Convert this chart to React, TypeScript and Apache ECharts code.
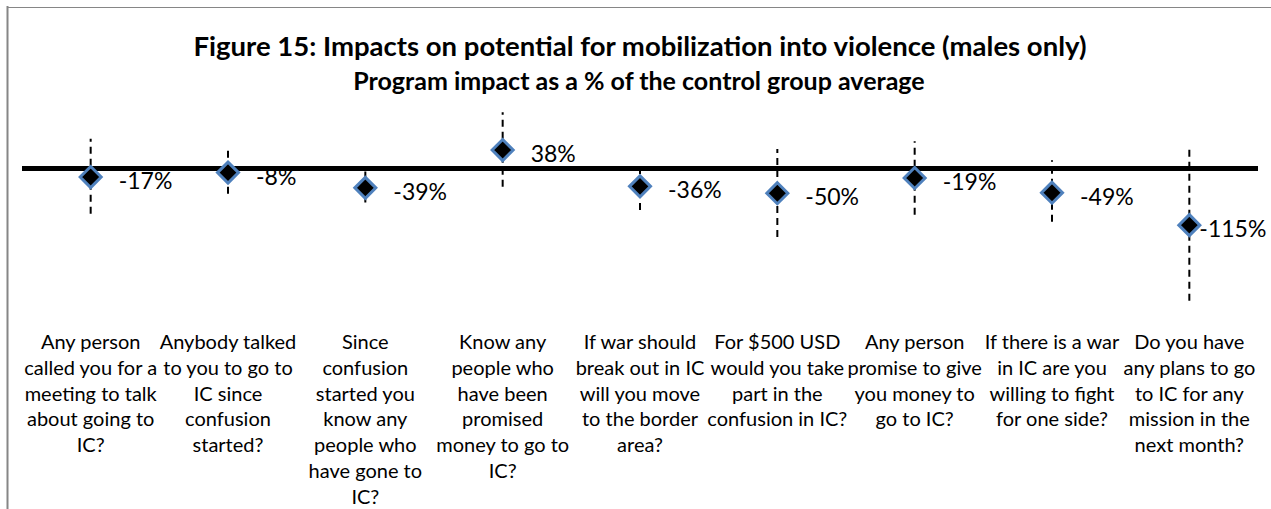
import React, { useEffect, useRef } from "react";
import * as echarts from "echarts";

const titleText = "Figure 15: Impacts on potential for mobilization into violence (males only)";
const subtitleText = "Program impact as a % of the control group average";

const categories = [
  "Any person\ncalled you for a\nmeeting to talk\nabout going to\nIC?",
  "Anybody talked\nto you to go to\nIC since\nconfusion\nstarted?",
  "Since\nconfusion\nstarted you\nknow any\npeople who\nhave gone to\nIC?",
  "Know any\npeople who\nhave been\npromised\nmoney to go to\nIC?",
  "If war should\nbreak out in IC\nwill you move\nto the border\narea?",
  "For $500 USD\nwould you take\npart in the\nconfusion in IC?",
  "Any person\npromise to give\nyou money to\ngo to IC?",
  "If there is a war\nin IC are you\nwilling to fight\nfor one side?",
  "Do you have\nany plans to go\nto IC for any\nmission in the\nnext month?",
];

const impacts = [-17, -8, -39, 38, -36, -50, -19, -49, -115];
const ciHigh = [61, 46, -2, 115, 13, 40, 56, 17, 46];
const ciLow = [-92, -51, -69, -37, -84, -139, -94, -108, -269];

const FONT = "Lato, 'Open Sans', sans-serif";

export default function App() {
  const ref = useRef<HTMLDivElement>(null);

  useEffect(() => {
    if (!ref.current) return;
    const chart = echarts.init(ref.current, undefined, { renderer: "svg" });
    const last = impacts.length - 1;

    chart.setOption({
      animation: false,
      backgroundColor: "#ffffff",
      grid: {
        left: 22,
        right: 13,
        top: 95,
        bottom: 193,
        containLabel: false,
        outerBoundsMode: "none",
      },
      xAxis: {
        type: "category",
        data: categories,
        boundaryGap: true,
        axisLine: { show: false },
        axisTick: { show: false },
        splitLine: { show: false },
        axisLabel: {
          interval: 0,
          color: "#000",
          fontFamily: FONT,
          fontSize: 20,
          lineHeight: 25.8,
          margin: 12,
          align: "center",
          hideOverlap: false,
        },
      },
      yAxis: {
        type: "value",
        min: -300,
        max: 150,
        show: false,
        splitLine: { show: false },
      },
      graphic: [
        {
          type: "line",
          shape: { x1: 7.5, y1: 6, x2: 7.5, y2: 509 },
          style: { stroke: "#868686", lineWidth: 2 },
        },
        {
          type: "line",
          shape: { x1: 7, y1: 7.5, x2: 1271, y2: 7.5 },
          style: { stroke: "#868686", lineWidth: 1.2 },
        },
        {
          type: "text",
          x: 640,
          y: 45.5,
          style: {
            text: titleText,
            font: `bold 27.5px ${FONT}`,
            fill: "#000",
            textAlign: "center",
            textVerticalAlign: "middle",
          },
        },
        {
          type: "text",
          x: 639,
          y: 79.5,
          style: {
            text: subtitleText,
            font: `bold 25px ${FONT}`,
            fill: "#000",
            textAlign: "center",
            textVerticalAlign: "middle",
          },
        },
      ],
      series: [
        {
          type: "custom",
          name: "CI",
          z: 1,
          silent: true,
          data: categories.map((_, i) => [i, ciLow[i], ciHigh[i]]),
          encode: { x: 0, y: [1, 2] },
          renderItem: (params: any, api: any) => {
            const idx = api.value(0);
            const lo = api.coord([idx, api.value(1)]);
            const hi = api.coord([idx, api.value(2)]);
            return {
              type: "line",
              shape: { x1: lo[0], y1: lo[1], x2: hi[0], y2: hi[1] },
              style: { stroke: "#000", lineWidth: 2, lineDash: [7, 5] },
            };
          },
        },
        {
          type: "scatter",
          name: "Impact",
          z: 3,
          symbol: "diamond",
          symbolSize: 21,
          itemStyle: { color: "#000", borderColor: "#4F81BD", borderWidth: 3, opacity: 1 },
          data: impacts.map((v, i) => ({
            value: v,
            label: i === last ? { distance: -2 } : undefined,
          })),
          label: {
            show: true,
            position: "right",
            distance: 16,
            offset: [0, 3],
            color: "#000",
            fontFamily: FONT,
            fontSize: 23,
            formatter: (p: any) => `${impacts[p.dataIndex]}%`,
          },
          markLine: {
            silent: true,
            symbol: "none",
            label: { show: false },
            lineStyle: { color: "#000", width: 5, type: "solid", opacity: 1 },
            data: [{ yAxis: 0 }],
            z: 2,
          },
        },
      ],
    });

    return () => chart.dispose();
  }, []);

  return (
    <div
      ref={ref}
      style={{ position: "absolute", left: 0, top: 0, width: 1271, height: 509 }}
    />
  );
}
